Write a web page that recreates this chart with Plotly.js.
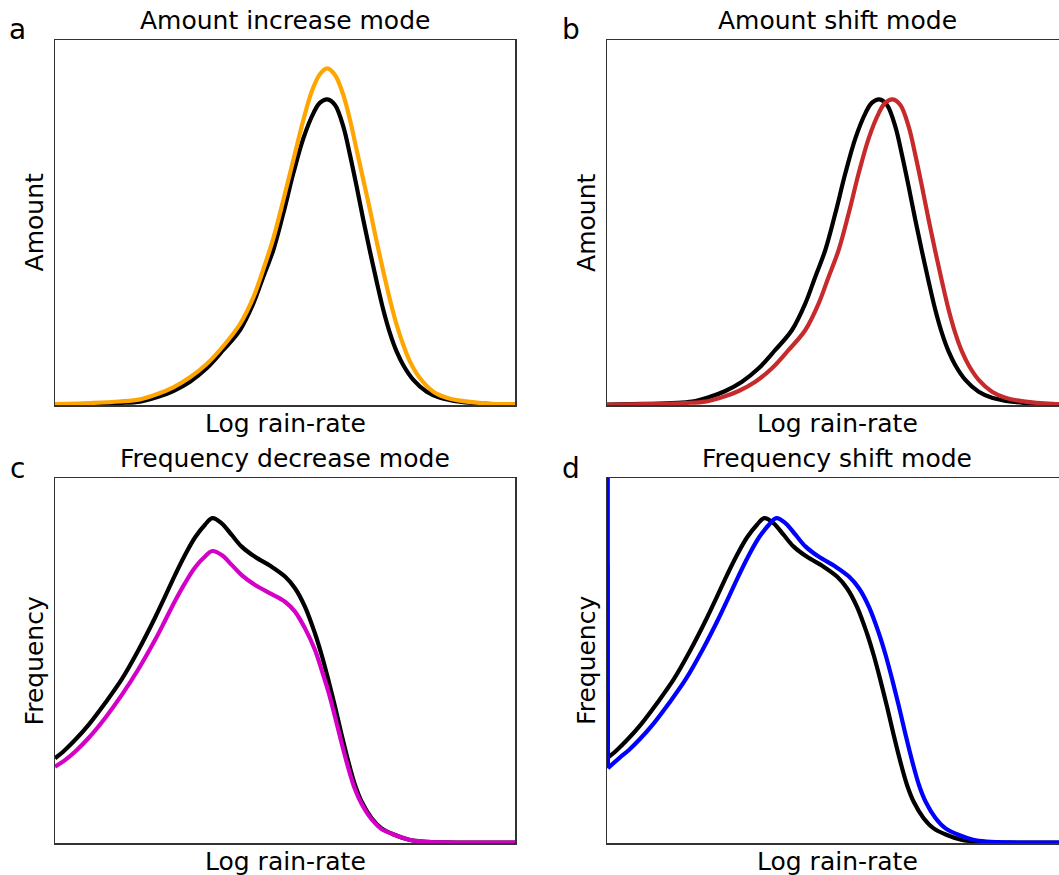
<!DOCTYPE html>
<html>
<head>
<meta charset="utf-8">
<script src="https://cdn.plot.ly/plotly-3.0.1.min.js"></script>
<style>
  html, body { margin: 0; padding: 0; overflow: hidden; background: #fff; }
  #chart { width: 1075px; height: 875px; }
</style>
</head>
<body>
<div id="chart"></div>
<script>
// ---------- data (arbitrary units) ----------
// Amount distributions (panels a, b)
var amtX = [0, 8, 14, 18.48, 22.10, 25.72, 29.35, 32.97, 36.59, 40.22, 43.12, 45.29, 47.46, 49.64, 51.81, 53.99, 56.16, 57.61, 59.20, 60.87, 62.68, 64.13, 65.58, 67.03, 68.48, 69.93, 71.38, 72.83, 74.28, 75.72, 77.90, 80.80, 83.70, 88.04, 94, 100];
var amtControl = [0.1, 0.3, 0.55, 0.91, 2.10, 3.84, 6.39, 10.05, 15.07, 20.55, 27.85, 35.16, 42.47, 52.51, 63.47, 73.06, 79.91, 82.83, 83.74, 82.19, 76.26, 68.49, 59.82, 50.68, 42.01, 33.79, 26.03, 19.63, 14.61, 10.9, 6.9, 3.65, 2.01, 0.91, 0.3, 0.1];

var incX = [0, 8, 14, 18.48, 22.10, 25.72, 29.35, 32.97, 36.59, 40.22, 43.12, 45.29, 47.46, 49.64, 51.81, 53.99, 55.80, 57.61, 59.20, 60.87, 62.68, 64.13, 65.58, 67.03, 68.48, 69.93, 71.38, 72.83, 74.28, 75.72, 77.17, 79.35, 82.25, 85.14, 88.04, 94, 100];
var incY = [0.25, 0.55, 0.95, 1.55, 2.92, 4.84, 7.58, 11.23, 16.16, 22.19, 29.50, 37.17, 45.66, 56.16, 67.12, 78.08, 85.84, 90.68, 92.24, 90.41, 84.93, 78.08, 69.86, 61.64, 53.42, 44.75, 36.53, 28.77, 21.92, 16.44, 11.87, 7.31, 3.65, 2.01, 1.19, 0.4, 0.2];

var shiftX = [0, 10.9, 16.9, 21.38, 25.0, 28.62, 32.25, 35.87, 39.49, 43.12, 46.02, 48.19, 50.36, 52.54, 54.71, 56.89, 59.06, 60.51, 62.1, 63.77, 65.58, 67.03, 68.48, 69.93, 71.38, 72.83, 74.28, 75.73, 77.18, 78.62, 80.8, 83.7, 86.6, 90.94, 96.9, 100];
var shiftY = [0.05, 0.3, 0.55, 0.91, 2.10, 3.84, 6.39, 10.05, 15.07, 20.55, 27.85, 35.16, 42.47, 52.51, 63.47, 73.06, 79.91, 82.83, 83.74, 82.19, 76.26, 68.49, 59.82, 50.68, 42.01, 33.79, 26.03, 19.63, 14.61, 10.9, 6.9, 3.65, 2.01, 0.91, 0.3, 0.2];

// Frequency distributions (panels c, d)
var frqX = [0, 2.17, 4.35, 7.25, 10.87, 14.49, 18.12, 21.74, 23.91, 26.09, 28.26, 30.43, 32.61, 34.20, 36.23, 38.41, 40.58, 43.48, 47.10, 50.0, 52.17, 54.35, 56.52, 57.97, 59.42, 60.87, 62.32, 63.77, 65.22, 66.67, 68.84, 71.01, 73.91, 77, 80, 85, 100];
var frqControl = [23.2, 25.5, 28.2, 32.3, 38.3, 44.8, 52.8, 61.7, 67.5, 73.4, 78.9, 83.7, 87.2, 89.0, 87.6, 84.4, 81.2, 78.4, 75.7, 73.0, 69.8, 64.7, 57.4, 51.5, 44.7, 37.4, 29.6, 22.3, 15.9, 11.3, 6.8, 4.0, 2.2, 0.9, 0.4, 0.15, 0.1];

var decY = [20.9, 22.7, 25.0, 28.7, 34.2, 40.5, 47.6, 55.6, 60.9, 66.3, 71.2, 75.5, 78.5, 80.0, 78.9, 76.2, 73.4, 70.7, 68.2, 66.1, 63.4, 58.8, 52.9, 47.4, 41.5, 34.6, 27.3, 20.5, 14.7, 10.7, 6.5, 3.8, 2.2, 0.9, 0.4, 0.15, 0.1];

var fshX = [0.15, 0.2, 2.6, 4.77, 6.95, 9.85, 13.47, 17.09, 20.72, 24.34, 26.51, 28.69, 30.86, 33.03, 35.21, 36.8, 38.83, 41.01, 43.18, 46.08, 49.7, 52.6, 54.77, 56.95, 59.12, 60.57, 62.02, 63.47, 64.92, 66.37, 67.82, 69.27, 71.44, 73.61, 76.51, 79.6, 82.6, 87.6, 100];
var fshY = [140, 20.5, 23.2, 25.5, 28.2, 32.3, 38.3, 44.8, 52.8, 61.7, 67.5, 73.4, 78.9, 83.7, 87.2, 89.0, 87.6, 84.4, 81.2, 78.4, 75.7, 73.0, 69.8, 64.7, 57.4, 51.5, 44.7, 37.4, 29.6, 22.3, 15.9, 11.3, 6.8, 4.0, 2.2, 0.9, 0.4, 0.15, 0.1];

var panelTitles = ["Amount increase mode", "Amount shift mode", "Frequency decrease mode", "Frequency shift mode"];
var panelLetters = ["a", "b", "c", "d"];
var xLabel = "Log rain-rate";
var yLabels = ["Amount", "Amount", "Frequency", "Frequency"];

// ---------- layout ----------
var W = 1075, H = 875;
function fx(px) { return px / W; }
function fy(py) { return 1 - py / H; }
var FONT = "DejaVu Sans, Verdana, sans-serif";

function line(x, y, color, xa, ya, shape) {
  return { x: x, y: y, xaxis: xa, yaxis: ya, type: 'scatter', mode: 'lines',
           line: { color: color, width: 4.2, shape: shape || 'spline', smoothing: 1.0 },
           hoverinfo: 'skip', showlegend: false };
}

var traces = [
  line(amtX, amtControl, '#000000', 'x', 'y'),
  line(incX, incY, '#ffa500', 'x', 'y'),
  line(amtX, amtControl, '#000000', 'x2', 'y2'),
  line(shiftX, shiftY, '#c62a2a', 'x2', 'y2'),
  line(frqX, frqControl, '#000000', 'x3', 'y3'),
  line(frqX, decY, '#d400c8', 'x3', 'y3'),
  line(frqX, frqControl, '#000000', 'x4', 'y4'),
  line(fshX.slice(0, 2), fshY.slice(0, 2), '#0000ff', 'x4', 'y4', 'linear'),
  line(fshX.slice(1), fshY.slice(1), '#0000ff', 'x4', 'y4')
];

function ax(domain, anchor) {
  return { domain: domain, anchor: anchor, range: [0, 100], showgrid: false, zeroline: false,
           showticklabels: false, ticks: '', showline: true, mirror: true,
           linecolor: '#333333', linewidth: 1.5, fixedrange: true };
}
var xL = [fx(55), fx(515)], xR = [fx(607), fx(1067)];
var yT = [fy(405), fy(40)], yB = [fy(843), fy(478)];

var layout = {
  width: W, height: H, margin: { l: 0, r: 0, t: 0, b: 0 },
  paper_bgcolor: '#ffffff', plot_bgcolor: '#ffffff',
  font: { family: FONT, color: '#000000', size: 25 },
  xaxis: ax(xL, 'y'), yaxis: ax(yT, 'x'),
  xaxis2: ax(xR, 'y2'), yaxis2: ax(yT, 'x2'),
  xaxis3: ax(xL, 'y3'), yaxis3: ax(yB, 'x3'),
  xaxis4: ax(xR, 'y4'), yaxis4: ax(yB, 'x4'),
  annotations: []
};

var cx = [285, 837, 285, 837];
var titleMid = [20.9, 20.9, 458.3, 458.3];
var letterX = [17.5, 570.5, 17.5, 570.5];
var letterMid = [29.8, 29.8, 468.3, 468.3];
var xLabMid = [423.4, 423.4, 861.4, 861.4];
var yLabX = [34.9, 586.4, 34.9, 586.4];
var yLabMid = [222.5, 222.5, 660.5, 660.5];

function ann(text, px, py, size, angle) {
  return { text: text, x: fx(px), y: fy(py), xref: 'paper', yref: 'paper',
           xanchor: 'center', yanchor: 'middle', showarrow: false, textangle: angle || 0,
           font: { family: FONT, size: size, color: '#000000' } };
}
for (var i = 0; i < 4; i++) {
  layout.annotations.push(ann(panelTitles[i], cx[i], titleMid[i], 25));
  layout.annotations.push(ann(panelLetters[i], letterX[i], letterMid[i], 28));
  layout.annotations.push(ann(xLabel, cx[i], xLabMid[i], 25));
  layout.annotations.push(ann(yLabels[i], yLabX[i], yLabMid[i], 25, -90));
}

Plotly.newPlot('chart', traces, layout, { displayModeBar: false, staticPlot: true, responsive: false });
</script>
</body>
</html>
